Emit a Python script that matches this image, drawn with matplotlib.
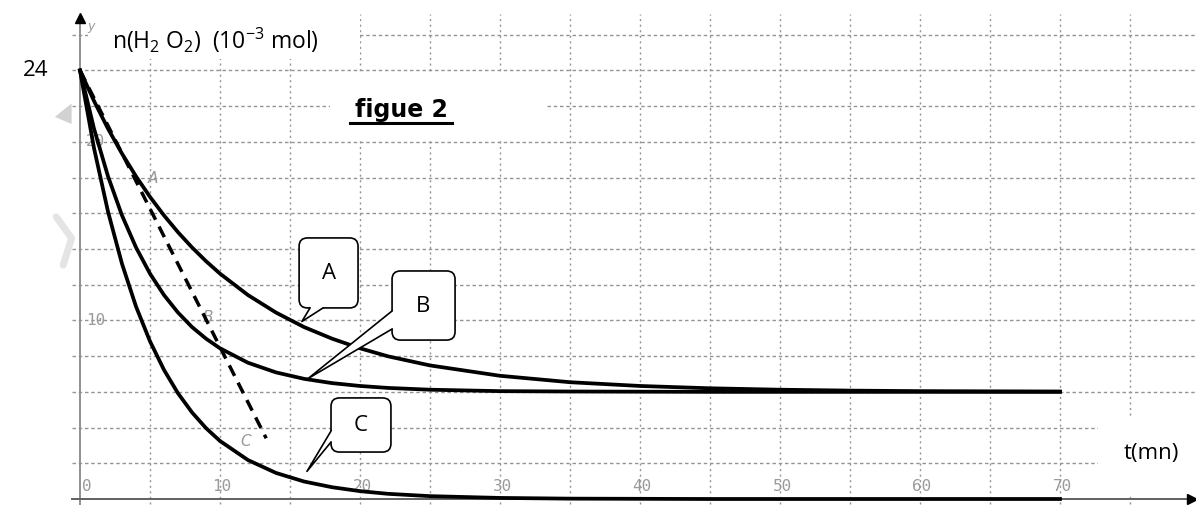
import numpy as np
import matplotlib.pyplot as plt
from matplotlib.patches import FancyBboxPatch, Polygon, Rectangle

plt.rcParams['mathtext.fontset'] = 'custom'
plt.rcParams['mathtext.rm'] = 'Open Sans'
plt.rcParams['mathtext.it'] = 'Open Sans:italic'

# --- amount of H2O2 (10^-3 mol) against time (mn) for the three experiments
t = [0, 1, 2, 3, 4, 5, 6, 7, 8, 9, 10, 12, 14, 16, 18, 20, 22, 25, 30, 35,
     40, 45, 50, 55, 60, 65, 70]
n_A = [24.00, 22.29, 20.74, 19.34, 18.07, 16.92, 15.88, 14.94, 14.09, 13.32,
       12.62, 11.42, 10.44, 9.63, 8.98, 8.44, 7.99, 7.48, 6.90, 6.54,
       6.33, 6.20, 6.12, 6.07, 6.04, 6.03, 6.02]
n_B = [24.00, 20.74, 18.07, 15.88, 14.09, 12.62, 11.42, 10.44, 9.63, 8.98,
       8.44, 7.63, 7.09, 6.73, 6.49, 6.33, 6.22, 6.12, 6.04, 6.02,
       6.01, 6.00, 6.00, 6.00, 6.00, 6.00, 6.00]
n_C = [24.00, 19.65, 16.09, 13.17, 10.78, 8.83, 7.23, 5.92, 4.85, 3.97,
       3.25, 2.18, 1.46, 0.98, 0.66, 0.44, 0.29, 0.16, 0.06, 0.02,
       0.01, 0.0, 0.0, 0.0, 0.0, 0.0, 0.0]

# tangent drawn at t = 0
tangent_t = [0, 13.3]
tangent_n = [24, 3.4]

x_ticks = [0, 10, 20, 30, 40, 50, 60, 70]
y_ticks = [10, 20]
grid_t = [5, 10, 15, 20, 25, 30, 35, 40, 45, 50, 55, 60, 65, 70, 75]
grid_n = [2, 4, 6, 8, 10, 12, 14, 16, 18, 20, 22, 24, 26]

GRID = '#949494'
FAINT = '#9a9a9a'
SX, SY = 14.0, 17.857   # pixels per unit on each axis


def callout(ax, box, base, tip, label, side):
    x0, y0, x1, y1 = box
    ax.add_patch(FancyBboxPatch((x0, y0), x1 - x0, y1 - y0,
                                boxstyle='round,pad=0,rounding_size=0.6',
                                mutation_aspect=SX / SY,
                                fc='white', ec='black', lw=1.2, zorder=5))
    b0, b1 = np.array(base[0]), np.array(base[1])
    d = np.array([0, 0.12]) if side == 'bottom' else np.array([0.1, 0])
    ax.add_patch(Polygon([b0, tip, b1, b1 + d, b0 + d], closed=True,
                         fc='white', ec='none', zorder=6))
    ax.plot([b0[0], tip[0], b1[0]], [b0[1], tip[1], b1[1]],
            color='black', lw=1.2, zorder=7)
    ax.text((x0 + x1) / 2, (y0 + y1) / 2, label, ha='center', va='center',
            fontsize=16, family='Open Sans', zorder=8)


fig = plt.figure(figsize=(11.96, 5.06), dpi=100)
ax = fig.add_axes([0, 0, 1, 1])
ax.set_xlim(-80 / SX, 1116 / SX)
ax.set_ylim(-6 / SY, 500 / SY)
ax.axis('off')

# --- grid
ax.hlines(grid_n, -0.6, 79.8, colors=GRID, lw=1.0, linestyles=(0, (2.5, 2)), zorder=1)
ax.vlines(grid_t, -0.3, 27.15, colors=GRID, lw=1.0, linestyles=(0, (1.5, 2.5)), zorder=1)

# white patches behind the labels
for (x0, y0, x1, y1) in [(0.57, 24.64, 20.0, 27.6), (17.86, 20.05, 33.36, 23.91),
                         (72.7, 0.25, 79.8, 4.5)]:
    ax.add_patch(Rectangle((x0, y0), x1 - x0, y1 - y0, fc='white', ec='none', zorder=2))

# --- axes with arrows
ax.plot([0, 0], [-0.3, 26.9], color='#909090', lw=1.4, zorder=3)
ax.plot([0], [26.95], marker='^', ms=7, color='black', zorder=3)
ax.plot([-0.6, 79.4], [0, 0], color='#606060', lw=1.4, zorder=3)
ax.plot([79.45], [0], marker='>', ms=7, color='black', zorder=3)

# faint tick labels and curve letters of the original plot
for v in x_ticks:
    ax.text(v + (0.5 if v == 0 else 0.15), 0.75, str(v), ha='center', va='center',
            fontsize=11.5, color=FAINT, family='DejaVu Sans Mono', zorder=3)
for v in y_ticks:
    ax.text(1.1, v + 0.05, str(v), ha='center', va='center',
            fontsize=11.5, color=FAINT, family='DejaVu Sans Mono', zorder=3)
for lab, x, y in [('A', 5.2, 18.0), ('B', 9.1, 10.2), ('C', 11.8, 3.3)]:
    ax.text(x, y, lab, ha='center', va='center', fontsize=11, color=FAINT,
            style='italic', zorder=3)
ax.text(0.75, 26.5, 'y', ha='center', va='center', fontsize=9, color=FAINT,
        style='italic', zorder=3)

# greyed navigation marks on the left edge
ax.add_patch(Polygon([(-0.6, 21.0), (-0.6, 22.15), (-1.8, 21.4)], closed=True,
                     fc='#d2d2d2', ec='none', zorder=2))
ax.plot([-1.7, -0.6, -1.2], [15.8, 14.6, 13.1], color='#e4e4e4', lw=5,
        solid_capstyle='round', zorder=2)

# --- curves
ax.plot(t, n_A, color='black', lw=2.7, zorder=4)
ax.plot(t, n_B, color='black', lw=2.7, zorder=4)
ax.plot(t, n_C, color='black', lw=2.7, zorder=4)
ax.plot(tangent_t, tangent_n, color='black', lw=2.5, dashes=(3.4, 2.2), zorder=4)

# --- callouts
tA, tB, tC = 15.85, 16.29, 16.21
callout(ax, (15.65, 10.7, 19.86, 14.62), [(16.43, 10.7), (17.36, 10.7)],
        (tA, np.interp(tA, t, n_A) + 0.25), 'A', 'bottom')
callout(ax, (22.29, 8.9, 26.79, 12.77), [(22.29, 10.53), (22.29, 9.52)],
        (tB, np.interp(tB, t, n_B) + 0.05), 'B', 'left')
callout(ax, (17.93, 2.63, 22.21, 5.66), [(17.93, 3.81), (17.93, 3.19)],
        (tC, np.interp(tC, t, n_C) + 0.6), 'C', 'left')

# --- labels
ax.text(2.3, 25.75, r'n(H$_2$ O$_2$)  (10$^{-3}$ mol)', ha='left', va='center',
        fontsize=16.5, family='Open Sans', zorder=8)
ax.text(-3.2, 24.05, '24', ha='center', va='center', fontsize=16,
        family='Open Sans', zorder=8)
ax.text(76.55, 2.6, 't(mn)', ha='center', va='center', fontsize=16,
        family='Open Sans', zorder=8)
ax.text(22.93, 21.45, 'figue 2', ha='center', va='baseline', fontsize=17,
        weight='bold', family='DejaVu Sans', zorder=8)
ax.plot([19.3, 26.57], [21.06, 21.06], color='black', lw=2.2, zorder=8)

fig.savefig('out.png', dpi=100)
